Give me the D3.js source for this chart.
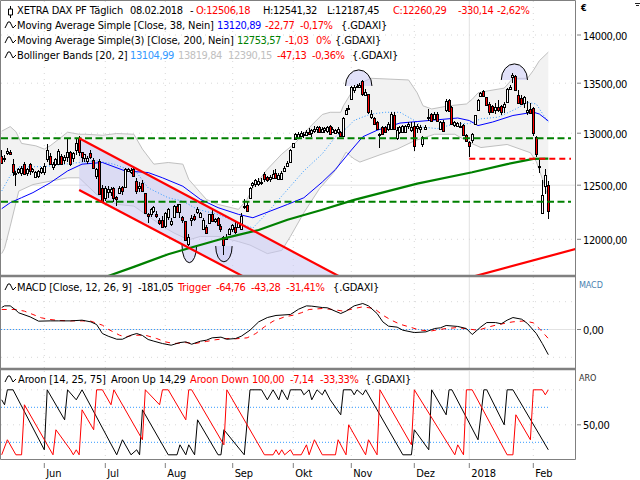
<!DOCTYPE html>
<html>
<head>
<meta charset="utf-8">
<script src="https://cdn.jsdelivr.net/npm/d3@7"></script>
<style>
  html, body { margin: 0; padding: 0; background: #fff; overflow: hidden; }
  svg { display: block; }
  text { font-family: "DejaVu Sans Condensed", "DejaVu Sans", sans-serif; font-size: 11px; letter-spacing: -0.13px; }
  text.num { letter-spacing: -0.4px; }
</style>
</head>
<body>
<script>
// candles
const barOpen = [
  12780,12748,12810,12815,12706,12610,12620,12619,12700,12610,
  12700,12635,12580,12590,12625,12625,12748,12774,12670,12700,
  12706,12780,12732,12765,12813,12760,12839,12952,12813,12765,
  12732,12805,12742,12587,12732,12475,12385,12440,12430,12475,
  12385,12430,12480,12480,12640,12625,12651,12538,12470,12522,
  12429,12235,12225,12260,12230,12175,12180,12120,12200,12135,
  12205,12305,12250,12205,12165,11964,12180,12210,12243,12210,
  12095,12110,12155,12235,12170,12195,12125,12025,12010,12045,
  12090,12110,12110,12090,12295,12310,12385,12510,12510,12510,
  12530,12605,12580,12560,12570,12619,12560,12560,12635,12685,
  12725,12865,12942,12960,12975,12990,12985,13015,13000,13030,
  13040,13060,13020,13030,13020,13075,13015,13000,13015,13012,
  12975,13198,13240,13347,13428,13461,13461,13523,13386,13386,
  13159,13152,13110,12980,13061,13061,13045,13045,13181,12950,
  13012,13012,13012,13070,13030,13071,13060,13045,12900,13045,
  13152,13191,13145,13191,13045,13115,13225,13330,13255,13080,
  13080,13075,13085,12985,12915,12940,13085,13225,13370,13420,
  13360,13290,13270,13225,13255,13265,13255,13305,13445,13560,
  13570,13385,13355,13305,13210,13240,13245,12965,12685,12233,
  12497,12506.18];
const barHigh = [
  12840,12790,12860,12835,12748,12630,12660,12680,12720,12660,
  12712,12660,12630,12640,12670,12710,12893,12810,12720,12760,
  12850,12800,12790,12942,12830,12815,12940,12970,12820,12800,
  12780,12840,12760,12665,12745,12500,12495,12490,12480,12480,
  12395,12490,12495,12660,12665,12665,12670,12570,12530,12550,
  12430,12240,12285,12305,12260,12190,12215,12250,12290,12190,
  12310,12320,12325,12210,12170,12050,12220,12230,12300,12250,
  12190,12130,12235,12274,12195,12205,12135,12030,12045,12100,
  12140,12160,12155,12240,12370,12350,12480,12530,12560,12565,
  12570,12625,12590,12595,12640,12650,12615,12635,12680,12730,
  12850,12905,13000,13010,13020,13015,13030,13050,13040,13070,
  13075,13075,13060,13065,13075,13085,13060,13045,13060,13020,
  13160,13245,13275,13475,13478,13495,13500,13535,13440,13390,
  13230,13165,13120,13000,13075,13075,13110,13205,13205,13060,
  13075,13085,13085,13110,13110,13110,13095,13085,12975,13085,
  13240,13200,13205,13205,13120,13130,13335,13340,13265,13120,
  13115,13110,13090,12990,12920,13000,13180,13335,13410,13430,
  13365,13310,13280,13300,13330,13280,13310,13450,13480,13600,
  13580,13430,13380,13375,13320,13300,13255,12970,12750,12552,
  12650,12541.32];
const barLow = [
  12700,12720,12790,12790,12587,12491,12610,12590,12600,12590,
  12600,12620,12570,12570,12610,12600,12716,12690,12640,12680,
  12690,12690,12700,12716,12680,12720,12790,12780,12720,12720,
  12700,12745,12660,12560,12405,12330,12350,12380,12400,12340,
  12305,12420,12410,12470,12630,12610,12580,12420,12440,12440,
  12230,12150,12205,12240,12195,12130,12110,12105,12175,12125,
  12190,12240,12190,12150,11985,11935,12120,12170,12230,12200,
  12090,12055,12140,12165,12150,12130,12070,11855,11990,12035,
  12070,12050,12100,12080,12275,12250,12380,12470,12480,12490,
  12500,12530,12530,12530,12555,12560,12545,12550,12625,12675,
  12720,12860,12935,12940,12960,12950,12970,12985,12960,13000,
  13000,13005,13005,13005,13000,12990,13005,12990,12995,12965,
  12965,13190,13225,13340,13400,13455,13450,13370,13380,13190,
  13140,13085,13040,12855,12995,13000,13020,13040,13035,12935,
  12995,13000,13000,13045,13010,12824,13000,13000,12870,13030,
  13120,13120,13130,13120,13035,13020,13210,13210,13080,13060,
  13060,13065,12980,12925,12770,12900,13080,13220,13360,13365,
  13270,13180,13200,13190,13210,13180,13200,13300,13430,13500,
  13420,13300,13280,13250,13175,13190,12975,12770,12620,12230,
  12413,12187.45];
const barClose = [
  12716,12760,12830,12800,12629,12620,12651,12668,12603,12650,
  12635,12650,12625,12635,12660,12680,12839,12693,12700,12748,
  12830,12700,12765,12813,12694,12805,12903,12820,12765,12800,
  12760,12765,12668,12658,12419,12340,12475,12465,12460,12385,
  12370,12475,12440,12651,12655,12645,12587,12440,12490,12445,
  12243,12212,12274,12295,12215,12150,12120,12243,12274,12165,
  12305,12250,12320,12175,11995,12025,12195,12180,12274,12243,
  12180,12057,12235,12175,12185,12135,12100,11950,12025,12095,
  12130,12060,12150,12212,12305,12258,12475,12525,12550,12540,
  12520,12555,12555,12575,12610,12570,12600,12615,12665,12715,
  12840,12900,12990,12995,13005,12985,13015,13000,13030,13045,
  13060,13015,13045,13050,13060,13000,13045,13030,13045,12970,
  13152,13233,13250,13465,13458,13474,13484,13386,13412,13201,
  13191,13094,13045,12990,12996,13012,13094,13191,13045,13029,
  13061,13070,13075,13094,13060,12876,13075,13060,12965,13065,
  13165,13126,13190,13126,13115,13030,13320,13215,13085,13110,
  13105,13070,12985,12930,12880,12995,13175,13330,13400,13370,
  13275,13215,13210,13255,13225,13210,13290,13440,13465,13585,
  13430,13305,13290,13365,13225,13200,12995,12795,12680,12404,
  12598,12260.29];

// bollinger upper / lower / middle, [bar, price]
const bbUpper = [[0,13020],[3,13065],[5,13015],[7,12900],[12,12877],[15,12845],[17,12877],[20,12942],[23,13010],[27,12990],[29,12990],[35,12980],[40,12997],[46,12990],[49,12845],[53,12700],[58,12716],[63,12700],[65,12555],[69,12429],[71,12367],[75,12320],[82,12274],[85,12367],[87,12475],[92,12651],[97,12797],[102,12910],[104,12974],[108,13080],[112,13185],[115,13207],[119,13207],[120,13272],[123,13402],[126,13500],[130,13550],[143,13533],[146,13402],[148,13272],[151,13240],[157,13272],[163,13290],[165,13337],[167,13402],[170,13420],[176,13450],[179,13550],[184,13550],[186,13630],[188,13730],[191,13820]];
const bbLower = [[0,11871],[1,11917],[3,12119],[6,12444],[11,12506],[17,12538],[23,12570],[27,12570],[33,12413],[40,12320],[46,12305],[51,12212],[57,12103],[60,12057],[65,11995],[69,12026],[75,12026],[82,11979],[86,11948],[92,11871],[97,11900],[100,12026],[105,12243],[111,12470],[117,12640],[121,12815],[124,12750],[126,12720],[133,12790],[139,12845],[145,12925],[152,12990],[159,12990],[164,12910],[168,12860],[177,12890],[185,12810],[187,12725],[189,12560],[191,12390]];
const bbMiddle = [[0,12445],[3,12590],[6,12673],[15,12677],[27,12716],[33,12732],[39,12700],[47,12620],[51,12475],[58,12382],[63,12350],[68,12274],[75,12228],[82,12150],[87,12103],[92,12243],[97,12398],[100,12490],[105,12635],[112,12800],[117,12965],[121,13045],[124,13126],[127,13160],[130,13190],[135,13207],[140,13207],[145,13126],[148,13060],[153,13045],[159,13094],[164,13094],[168,13142],[174,13159],[180,13240],[184,13305],[187,13290],[191,13105]];

// moving averages, [bar, price]
const sma38 = [[0,12280],[3,12336],[7,12383],[11,12430],[17,12522],[23,12635],[28,12700],[35,12716],[43,12635],[51,12620],[56,12570],[63,12490],[69,12367],[75,12290],[82,12228],[87,12197],[93,12258],[99,12320],[105,12382],[112,12530],[117,12650],[123,12835],[127,12965],[132,13029],[140,13100],[146,13115],[152,13130],[160,13150],[164,13125],[167,13075],[172,13110],[179,13175],[186,13208],[188,13190],[191,13120.89]];
const sma200 = [[37,11672],[46,11753],[58,11866],[65,11919],[77,12009],[89,12085],[99,12178],[112,12270],[124,12362],[146,12515],[165,12623],[177,12700],[186,12750],[191,12753.57]];

// drawn levels and trend lines
const greenLevels = [12950, 12345];
const redLevel = 12753;
const redLevelStart = 164;
const channelUpper = [[27,12950],[120,11650]];
const channelLower = [[27,12455],[85,11650]];
const trendLine = [[166,11672],[200,11912]];

// half circle marks: bar, half width in bars, base price, tip price
const markBar = [125.5, 179.5, 65.2, 77];
const markHalf = [4.7, 4.5, 2.5, 2.8];
const markBase = [13472, 13533, 11948, 11939];
const markTip = [13636, 13698, 11790, 11798];

// MACD
const macdLine = [[0,158],[1,170],[3,170],[5,139],[6,120],[10,91],[13,60],[17,62],[20,62],[24,62],[28,67],[31,55],[33,36],[35,-29],[37,-48],[40,-70],[42,-70],[45,-41],[47,-29],[49,-43],[51,-72],[53,-84],[56,-101],[59,-113],[62,-94],[64,-89],[66,-106],[69,-84],[71,-77],[73,-60],[76,-55],[78,-70],[81,-65],[83,-48],[86,-5],[89,55],[92,86],[95,101],[100,108],[103,146],[106,170],[108,168],[112,158],[114,156],[116,139],[119,115],[121,132],[124,170],[127,187],[129,170],[132,115],[134,55],[136,24],[139,17],[141,-5],[145,-22],[149,-17],[152,7],[154,12],[156,29],[160,22],[163,7],[165,-36],[168,19],[170,50],[173,50],[175,41],[177,67],[179,86],[182,74],[184,43],[187,-29],[189,-101],[191,-181.05]];
const macdTrigger = [[0,144],[5,144],[8,132],[11,108],[14,84],[17,72],[20,65],[24,62],[28,62],[31,60],[35,31],[37,2],[41,-41],[43,-53],[46,-41],[50,-41],[54,-65],[57,-89],[60,-101],[64,-94],[67,-101],[71,-86],[74,-74],[78,-65],[81,-67],[85,-60],[88,-29],[91,19],[94,60],[98,91],[101,103],[104,120],[107,144],[112,151],[116,144],[120,132],[124,151],[127,163],[131,151],[134,103],[137,67],[140,38],[144,14],[147,-5],[151,-10],[153,-2],[156,7],[160,14],[163,5],[167,-5],[170,14],[173,31],[177,48],[179,55],[183,62],[186,48],[188,7],[191,-64.76]];

// Aroon
const aroonUp = [[0,85.7],[1,78.6],[2,100],[4,100],[15,14.3],[16,100],[22,57.1],[23,100],[26,85.7],[28,100],[40,7.14],[42,28.6],[45,7.14],[47,14.3],[48,7.14],[49,71.4],[58,7.14],[61,7.14],[62,21.4],[64,7.14],[65,21.4],[67,7.14],[68,57.1],[75,7.14],[76,7.14],[77,42.9],[84,7.14],[86,100],[90,100],[92,85.7],[94,100],[96,85.7],[97,100],[99,85.7],[100,100],[104,100],[105,92.86],[107,100],[108,85.7],[110,100],[112,92.86],[113,100],[115,85.7],[119,64.3],[120,100],[123,100],[124,92.86],[125,100],[127,92.86],[128,100],[141,7.14],[144,7.14],[145,42.9],[150,14.3],[151,100],[156,64.3],[157,100],[158,100],[167,28.6],[169,100],[170,100],[176,50],[177,100],[179,100],[191,14.29]];
const aroonDown = [[0,7.14],[2,28.6],[5,7.14],[7,7.14],[8,78.6],[18,7.14],[19,42.9],[24,14.3],[25,7.14],[26,14.3],[27,7.14],[28,71.4],[30,57.1],[32,42.9],[33,100],[35,100],[38,78.6],[39,100],[49,28.6],[50,100],[55,78.6],[56,100],[58,100],[64,57.1],[65,100],[66,100],[77,21.4],[78,100],[91,7.14],[94,7.14],[95,14.3],[96,7.14],[97,14.3],[98,7.14],[100,14.3],[101,7.14],[104,7.14],[106,21.4],[107,7.14],[109,28.6],[112,7.14],[117,7.14],[118,28.6],[121,7.14],[122,50],[128,7.14],[129,28.6],[132,7.14],[133,100],[144,21.4],[145,100],[159,7.14],[160,21.4],[162,7.14],[163,100],[165,100],[177,7.14],[179,7.14],[180,64.3],[185,28.6],[186,100],[189,100],[190,92.86],[191,100]];

// axes
const monthBars = [15, 36, 57, 80, 101, 123, 145, 164, 186];
const monthLabels = ["Jun", "Jul", "Aug", "Sep", "Okt", "Nov", "Dez", "2018", "Feb"];
const priceTicks = [14000, 13500, 13000, 12500, 12000];

const width = 640, height = 480;
const plotRight = 575;

// bars are not evenly spaced in the picture, so the x scale is piecewise
const x = d3.scaleLinear()
  .domain([0, 15, 36, 57, 80, 101, 123, 145, 164, 186, 191])
  .range([1.7, 44.3, 105.3, 165.3, 232.7, 293.3, 351.3, 414.3, 469.3, 533.3, 548.3]);
const y = d3.scaleLog().domain([12000, 14000]).range([239.3, 35]);
const yMacd = d3.scaleLinear().domain([-200, 200]).range([357.3, 301.7]);
const yAroon = d3.scaleLinear().domain([0, 100]).range([459.8, 389.8]);

const svg = d3.select("body").append("svg").attr("width", width).attr("height", height);

function addClip(id, top, bottom) {
  svg.append("clipPath").attr("id", id).append("rect")
    .attr("x", 1).attr("y", top).attr("width", plotRight - 1).attr("height", bottom - top);
}
addClip("clipMain", 1, 275);
addClip("clipMacd", 277, 368);
addClip("clipAroon", 371, 459);

const main = svg.append("g").attr("clip-path", "url(#clipMain)");
const macdG = svg.append("g").attr("clip-path", "url(#clipMacd)");
const aroonG = svg.append("g").attr("clip-path", "url(#clipAroon)");

function gridH(g, yPos, solid) {
  g.append("line").attr("x1", 1).attr("x2", plotRight).attr("y1", yPos).attr("y2", yPos)
    .attr("stroke", solid ? "#e2e2e2" : "#d8d8d8")
    .attr("stroke-width", 1)
    .attr("stroke-dasharray", solid ? null : "1,5");
}
function gridV(g, top, bottom) {
  monthBars.forEach(function(b, i) {
    g.append("line").attr("x1", x(b)).attr("x2", x(b)).attr("y1", top).attr("y2", bottom)
      .attr("stroke", monthLabels[i] == "2018" ? "#e2e2e2" : "#d8d8d8")
      .attr("stroke-dasharray", monthLabels[i] == "2018" ? null : "1,5");
  });
}

// main panel
gridV(main, 1, 275);
priceTicks.forEach(function(p) { gridH(main, y(p), p == 12500); });

const priceLine = d3.line().x(d => x(d[0])).y(d => y(d[1]));

// bollinger band
main.append("path")
  .attr("d", priceLine(bbUpper.concat(bbLower.slice().reverse())) + "Z")
  .attr("fill", "#f2f2f2");
[bbUpper, bbLower].forEach(function(band) {
  main.append("path").attr("d", priceLine(band))
    .attr("fill", "none").attr("stroke", "#c0c0c0").attr("stroke-width", 1);
});

// channel fill
main.append("path")
  .attr("d", priceLine(channelUpper.concat(channelLower.slice().reverse())) + "Z")
  .attr("fill", "#c8c8f4").attr("fill-opacity", 0.55);

// half circles
markBar.forEach(function(b, i) {
  const x0 = x(b - markHalf[i]), x1 = x(b + markHalf[i]);
  const rx = (x1 - x0) / 2, ry = Math.abs(y(markTip[i]) - y(markBase[i]));
  const sweep = markTip[i] > markBase[i] ? 1 : 0;
  main.append("path")
    .attr("d", "M" + x0 + "," + y(markBase[i]) + "A" + rx + "," + ry + " 0 0 " + sweep + " " + x1 + "," + y(markBase[i]))
    .attr("fill", "#c8c8f4").attr("fill-opacity", 0.55)
    .attr("stroke", "#000").attr("stroke-width", 1);
});

main.append("path").attr("d", priceLine(bbMiddle))
  .attr("fill", "none").attr("stroke", "#3399ff").attr("stroke-width", 1).attr("stroke-dasharray", "1,2");
main.append("path").attr("d", priceLine(sma38))
  .attr("fill", "none").attr("stroke", "#0000ff").attr("stroke-width", 1);

// candles
const bars = d3.range(barOpen.length);
const center = i => Math.floor(x(i)) + 0.5;
main.append("g").selectAll("line").data(bars).join("line")
  .attr("x1", center).attr("x2", center)
  .attr("y1", i => y(barHigh[i])).attr("y2", i => y(barLow[i]))
  .attr("stroke", "#000").attr("shape-rendering", "crispEdges");
main.append("g").selectAll("rect").data(bars).join("rect")
  .attr("x", i => center(i) - 1)
  .attr("width", 2)
  .attr("y", i => Math.round(y(Math.max(barOpen[i], barClose[i]))) + 0.5)
  .attr("height", i => Math.max(1, Math.round(Math.abs(y(barOpen[i]) - y(barClose[i])))))
  .attr("fill", i => barClose[i] < barOpen[i] ? "#ff0000" : "#ffffff")
  .attr("stroke", "#000").attr("stroke-width", 1).attr("shape-rendering", "crispEdges");

// 200 day line and drawn lines
main.append("path").attr("d", priceLine(sma200))
  .attr("fill", "none").attr("stroke", "#008000").attr("stroke-width", 2.2);
greenLevels.forEach(function(p) {
  main.append("line").attr("x1", 1).attr("x2", 571).attr("y1", y(p)).attr("y2", y(p))
    .attr("stroke", "#008000").attr("stroke-width", 2).attr("stroke-dasharray", "7,3.5");
});
main.append("line").attr("x1", x(redLevelStart)).attr("x2", 571).attr("y1", y(redLevel)).attr("y2", y(redLevel))
  .attr("stroke", "#ff0000").attr("stroke-width", 2).attr("stroke-dasharray", "6,4");
[channelUpper, channelLower, trendLine].forEach(function(l) {
  main.append("path").attr("d", priceLine(l))
    .attr("fill", "none").attr("stroke", "#ff0000").attr("stroke-width", 2.2);
});

// MACD panel
gridV(macdG, 277, 368);
[-200, 200].forEach(v => gridH(macdG, yMacd(v), false));
gridH(macdG, yMacd(0), true);
macdG.append("line").attr("x1", 1).attr("x2", x(191)).attr("y1", yMacd(0)).attr("y2", yMacd(0))
  .attr("stroke", "#3399ff").attr("stroke-dasharray", "1,2");
const macdPath = d3.line().x(d => x(d[0])).y(d => yMacd(d[1]));
macdG.append("path").attr("d", macdPath(macdTrigger))
  .attr("fill", "none").attr("stroke", "#ff0000").attr("stroke-width", 1).attr("stroke-dasharray", "5,5");
macdG.append("path").attr("d", macdPath(macdLine))
  .attr("fill", "none").attr("stroke", "#000").attr("stroke-width", 1);

// Aroon panel
gridV(aroonG, 371, 459);
[0, 50, 100].forEach(v => gridH(aroonG, yAroon(v), false));
[25, 75].forEach(function(v) {
  aroonG.append("line").attr("x1", 1).attr("x2", x(191)).attr("y1", yAroon(v)).attr("y2", yAroon(v))
    .attr("stroke", "#3399ff").attr("stroke-dasharray", "1,2");
});
const aroonPath = d3.line().x(d => x(d[0])).y(d => yAroon(d[1]));
aroonG.append("path").attr("d", aroonPath(aroonUp))
  .attr("fill", "none").attr("stroke", "#000").attr("stroke-width", 1);
aroonG.append("path").attr("d", aroonPath(aroonDown))
  .attr("fill", "none").attr("stroke", "#ff0000").attr("stroke-width", 1);

// frames
const frame = svg.append("g").attr("stroke", "#808080").attr("fill", "none");
frame.append("path").attr("d", "M0.5,0.5H575.5V459.5H0.5Z");
frame.append("path").attr("d", "M0,276H575M0,369H575").attr("stroke-width", 2.5);

// right axis
function rightTicks(scale, values, fmt) {
  values.forEach(function(v) {
    svg.append("line").attr("x1", 577).attr("x2", 581).attr("y1", scale(v)).attr("y2", scale(v)).attr("stroke", "#808080");
    svg.append("text").attr("class", "num").attr("x", 583).attr("y", scale(v) + 4.5).attr("fill", "#000").text(fmt(v));
  });
}
const fmt2 = v => d3.format(".2f")(v).replace(".", ",");
rightTicks(y, priceTicks, fmt2);
rightTicks(yMacd, [0], fmt2);
rightTicks(yAroon, [50], fmt2);
svg.append("text").attr("x", 581).attr("y", 11).attr("font-weight", "bold").style("font-size", "9px").text("€");
svg.append("text").attr("x", 579).attr("y", 288).attr("fill", "#4a7fb0").style("font-size", "9px").text("MACD");
svg.append("text").attr("x", 579).attr("y", 381).attr("fill", "#333").style("font-size", "9px").text("ARO");
// tiny mark in the top right corner
svg.append("path").attr("d", "M635,3.5H640M636,5.5H639").attr("stroke", "#222");

// bottom axis
monthBars.forEach(function(b, i) {
  svg.append("line").attr("x1", x(b)).attr("x2", x(b)).attr("y1", 463).attr("y2", 468).attr("stroke", "#808080");
  svg.append("text").attr("x", x(b) + 2).attr("y", 477).text(monthLabels[i]);
});

// legend rows
const RED = "#ff0000", BLACK = "#000";
const GDAXI = "{.GDAXI}";
function row(yPos, parts) {
  parts.forEach(function(p) {
    svg.append("text").attr("x", p[0]).attr("y", yPos).attr("fill", p[2] || BLACK)
      .attr("class", /^[-OHLC:\d,.%]+$/.test(p[1]) ? "num" : null).text(p[1]);
  });
}
row(14, [[17, "XETRA DAX PF Täglich"], [130, "08.02.2018"], [190, "-"], [196, "O:12506,18", RED], [263, "H:12541,32"], [327, "L:12187,45"], [393, "C:12260,29", RED], [458, "-330,14", RED], [497, "-2,62%", RED]]);
row(29, [[17, "Moving Average Simple [Close, 38, Nein]"], [217, "13120,89", "#0000ff"], [265, "-22,77", RED], [300, "-0,17%", RED], [341, GDAXI]]);
row(44, [[17, "Moving Average Simple(3) [Close, 200, Nein]"], [237, "12753,57", "#008000"], [285, "-1,03", RED], [316, "0%", RED], [335, GDAXI]]);
row(59, [[17, "Bollinger Bands [20, 2]"], [130, "13104,99", "#3399ff"], [178, "13819,84", "#c0c0c0"], [228, "12390,15", "#c0c0c0"], [277, "-47,13", RED], [312, "-0,36%", RED], [352, GDAXI]]);
row(291, [[17, "MACD [Close, 12, 26, 9]"], [138, "-181,05"], [178, "Trigger", RED], [216, "-64,76", RED], [251, "-43,28", RED], [286, "-31,41%", RED], [333, GDAXI]]);
row(383, [[18, "Aroon [14, 25, 75]"], [111, "Aroon Up"], [159, "14,29"], [190, "Aroon Down", RED], [252, "100,00", RED], [290, "-7,14", RED], [320, "-33,33%", RED], [365, GDAXI]]);

// little icons in front of the legend rows
svg.append("path").attr("d", "M10.5,6V9M10.5,15V18M8.5,9H12.5V15H8.5Z").attr("fill", "#fff").attr("stroke", "#000");
[29, 44, 59, 291, 383].forEach(function(r) {
  svg.append("path")
    .attr("d", "M5," + (r - 1) + "L8," + (r - 7) + "L10," + (r - 7) + "L13," + (r - 1) + "L16," + (r - 4))
    .attr("fill", "none").attr("stroke", "#000");
});
</script>
</body>
</html>
